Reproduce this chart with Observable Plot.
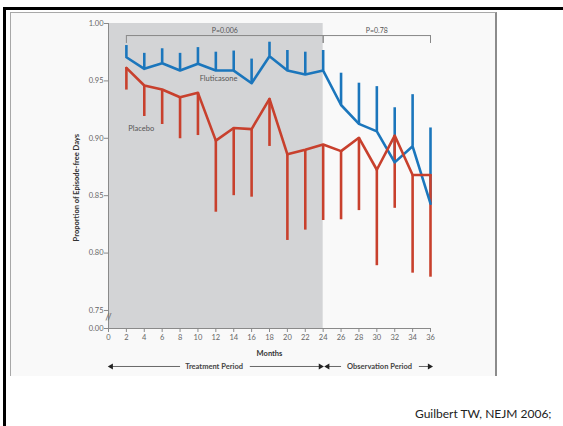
<!DOCTYPE html>
<html><head><meta charset="utf-8">
<script src="https://cdn.jsdelivr.net/npm/d3@7"></script>
<script src="https://cdn.jsdelivr.net/npm/@observablehq/plot@0.6"></script>
<style>
html,body{margin:0;padding:0;background:#fff;}
#wrap{position:relative;width:563px;height:426px;overflow:hidden;font-family:Lato,"Open Sans",sans-serif;}
#topbar{position:absolute;left:3px;top:7px;width:560px;height:2.5px;background:#000;}
#leftbar{position:absolute;left:3px;top:7px;width:2.5px;height:419px;background:#000;}
#box{position:absolute;left:10px;top:12px;width:484px;height:363px;background:#f9f9f9;border-left:1px solid #a8a8a8;border-top:1.5px solid #a8a8a8;border-right:2px solid #8c8c8c;}
#chart{position:absolute;left:0;top:0;}
#cite{position:absolute;left:415px;top:406px;font-family:Lato,"Open Sans",sans-serif;font-size:12px;color:#222;white-space:nowrap;}
</style>
</head><body>
<div id="wrap">
  <div id="topbar"></div>
  <div id="leftbar"></div>
  <div id="box"></div>
  <div id="chart"></div>
  <div id="cite">Guilbert TW, NEJM 2006;</div>
</div>
<script>
// ---- data ----
const months = [2,4,6,8,10,12,14,16,18,20,22,24,26,28,30,32,34,36];
const flutMean  = [0.9706,0.9605,0.9654,0.959,0.965,0.959,0.959,0.948,0.9715,0.959,0.9556,0.959,0.929,0.9126,0.906,0.879,0.893,0.843];
const flutUpper = [0.9808,0.974,0.978,0.974,0.979,0.975,0.976,0.969,0.9837,0.9765,0.975,0.9765,0.9567,0.948,0.945,0.9266,0.938,0.909];
const placMean  = [0.9614,0.946,0.9425,0.9358,0.9396,0.898,0.909,0.908,0.9344,0.886,0.890,0.8946,0.8888,0.9004,0.8726,0.9024,0.868,0.868];
const placLower = [0.942,0.919,0.912,0.8996,0.9024,0.8356,0.850,0.8487,0.8929,0.811,0.820,0.8284,0.829,0.837,0.789,0.839,0.7825,0.779];

const yBreak = 0.7343; // position of the "0.00" tick below the axis break
const yTicks = [yBreak,0.75,0.80,0.85,0.90,0.95,1.00];
const yTickLabels = ["0.00","0.75","0.80","0.85","0.90","0.95","1.00"];
const xTicks = [0,2,4,6,8,10,12,14,16,18,20,22,24,26,28,30,32,34,36];

const shade = [{x1:0, x2:24}];
const brackets = [{x1:2, x2:24, label:"P=0.006"}, {x1:24, x2:36, label:"P=0.78"}];
const bracketTop = 0.9895, bracketFoot = 0.9826, bracketLabelY = 0.9937;
const seriesLabels = [{x:12.3, y:0.952, text:"Fluticasone"}, {x:3.66, y:0.9085, text:"Placebo"}];

const periodY = 0.7012;
const periodLabels = [{x:11.8, text:"Treatment Period"}, {x:30.3, text:"Observation Period"}];
const periodSegments = [{x1:0.2, x2:8.0}, {x1:15.8, x2:23.8}, {x1:24.4, x2:26.0}, {x1:34.7, x2:36.0}];
const arrowHeads = [{x:0.3, dir:-90}, {x:23.7, dir:90}, {x:24.5, dir:-90}, {x:35.9, dir:90}];

const flut = months.map((m,i) => ({m, v:flutMean[i], e:flutUpper[i]}));
const plac = months.map((m,i) => ({m, v:placMean[i], e:placLower[i]}));

const blue = "#1b76bc", red = "#c8402d";
const font = "Lato, 'Open Sans', sans-serif";

const chart = Plot.plot({
  width: 563, height: 426,
  marginLeft: 108, marginRight: 133, marginTop: 23, marginBottom: 98,
  style: {background: "transparent", fontFamily: font, fontSize: "7.5px", color: "#555", overflow: "visible"},
  x: {domain: [0, 36]},
  y: {domain: [yBreak, 1]},
  marks: [
    Plot.rect(shade, {x1:"x1", x2:"x2", y1:yBreak, y2:1, fill:"#d3d4d6"}),
    Plot.ruleX([0], {stroke:"#8a8a8a", strokeWidth:1}),
    Plot.ruleY([yBreak], {stroke:"#8a8a8a", strokeWidth:1}),
    Plot.axisY({ticks: yTicks, tickFormat: d => yTickLabels[yTicks.indexOf(d)], tickSize: 4, tickPadding: 1, stroke:"#8a8a8a", fill:"#666", label: null, fontSize: 7.5}),
    Plot.axisX({ticks: xTicks, tickSize: 4, tickPadding: 2, stroke:"#8a8a8a", fill:"#666", label: null, fontSize: 7.5}),
    Plot.text(["//"], {x: 0, y: 0.7442, text: d => d, fill:"#777", fontSize: 9, fontWeight: "bold"}),
    // brackets
    Plot.link(brackets, {x1:"x1", x2:"x2", y1: () => bracketTop, y2: () => bracketTop, stroke:"#888", strokeWidth:1}),
    Plot.ruleX(brackets.flatMap(b => [b.x1, b.x2]), {y1: bracketFoot, y2: bracketTop, stroke:"#888", strokeWidth:1}),
    Plot.text(brackets, {x: b => (b.x1 + b.x2) / 2, y: () => bracketLabelY, text:"label", fill:"#555", fontSize:7}),
    // error bars
    Plot.ruleX(flut, {x:"m", y1:"v", y2:"e", stroke: blue, strokeWidth: 2.6}),
    Plot.ruleX(plac, {x:"m", y1:"v", y2:"e", stroke: red, strokeWidth: 2.6}),
    // lines
    Plot.line(flut, {x:"m", y:"v", stroke: blue, strokeWidth: 2.6}),
    Plot.line(plac, {x:"m", y:"v", stroke: red, strokeWidth: 2.6}),
    Plot.text(seriesLabels, {x:"x", y:"y", text:"text", fill:"#555", fontSize:7.5}),
    // axis titles
    Plot.text(["Months"], {x: 18, y: 0.7128, text: d => d, fill:"#333", fontWeight:"bold", fontSize: 7.5}),
    Plot.text(["Proportion of Episode-free Days"], {x: -3.54, y: 0.857, text: d => d, rotate: -90, fill:"#333", fontWeight:"bold", fontSize: 7.5}),
    // period annotations
    Plot.link(periodSegments, {x1:"x1", x2:"x2", y1: () => periodY, y2: () => periodY, stroke:"#444", strokeWidth: 0.8}),
    Plot.dot(arrowHeads, {x:"x", y: () => periodY, symbol:"triangle", rotate:"dir", r: 2.2, fill:"#222", stroke:"none"}),
    Plot.text(periodLabels, {x:"x", y: () => periodY, text:"text", fill:"#444", fontWeight:"bold", fontSize: 7.5})
  ]
});
document.getElementById("chart").appendChild(chart);
</script>
</body></html>
